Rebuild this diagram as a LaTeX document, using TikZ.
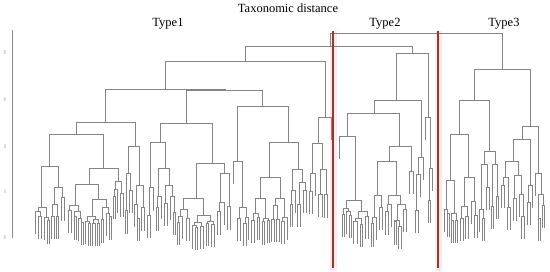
\documentclass[tikz,border=0pt]{standalone}
\usepackage{fontspec}
\setmainfont{Liberation Serif}
\definecolor{cutred}{RGB}{150,58,38}
\definecolor{cutglow}{RGB}{253,232,244}
\def\leafw{2.6}
\def\hang{23}
\def\hmax{228}
% one merge: left x, right x, merge height, left end, right end
\newcommand\mergeat[5]{\draw[dendro] (#1,#4) |- (#2,#3) -- (#2,#5);}
% lower part of a cluster: slot range a..b, drop x, height
\newcommand\subclade[4]{%
  \begingroup
  \pgfmathsetmacro\ca{#1}\pgfmathsetmacro\cb{#2}%
  \pgfmathsetmacro\cx{#3}\pgfmathsetmacro\ch{#4}%
  \pgfmathsetmacro\ck{2*\cx-(\ca+\cb)/2+(rnd-0.5)*0.3*(\cb-\ca)}%
  \pgfmathsetmacro\ck{max(\ca+\leafw,min(\cb-\leafw,\ck))}%
  \pgfmathsetmacro\cxl{(\ca+\ck)/2}\pgfmathsetmacro\cxr{(\ck+\cb)/2}%
  \pgfmathsetmacro\chl{(\ck-\ca)<1.5*\leafw ? \ch+\hang : \ch+(\hmax-\ch)*(0.15+0.55*rnd)}%
  \pgfmathsetmacro\chr{(\cb-\ck)<1.5*\leafw ? \ch+\hang : \ch+(\hmax-\ch)*(0.15+0.55*rnd)}%
  \draw[dendro] (\cxl,\chl) -- (\cxl,\ch) -- (\cxr,\ch) -- (\cxr,\chr);
  \draw[dendro] (\cx,\ch) -- ({(\cxl+\cxr)/2},\ch);
  \pgfmathparse{(\ck-\ca)>=1.5*\leafw}%
  \ifdim\pgfmathresult pt>0.5pt \subclade{\ca}{\ck}{\cxl}{\chl}\fi
  \pgfmathparse{(\cb-\ck)>=1.5*\leafw}%
  \ifdim\pgfmathresult pt>0.5pt \subclade{\ck}{\cb}{\cxr}{\chr}\fi
  \endgroup}

\begin{document}
\begin{tikzpicture}[x=1pt,y=-1pt,
  dendro/.style={draw=black!48,line width=0.35pt},
  heading/.style={font=\fontsize{12.5}{14}\selectfont,inner sep=0pt},
  scalelabel/.style={rotate=90,font=\fontsize{3}{3}\selectfont,text=black!60,inner sep=0pt}]
\useasboundingbox (0,0) rectangle (550,271);
\pgfmathsetseed{11}
% glow round the cut lines
\fill[cutglow] (330,31) rectangle (336.5,271);
\fill[cutglow] (435,31) rectangle (441.5,271);
% titles
\node[heading] (title) at (288,8) {Taxonomic distance};
\node[heading] (type-1) at (168,24) {Type1};
\node[heading] (type-2) at (385,24) {Type2};
\node[heading] (type-3) at (504,24) {Type3};
% height scale
\draw[black!45,line width=0.6pt] (12,30) -- (12,238);
\node[scalelabel] (scale-8) at (5,53) {0.8};
\node[scalelabel] (scale-6) at (5,100) {0.6};
\node[scalelabel] (scale-4) at (5,147) {0.4};
\node[scalelabel] (scale-2) at (5,192) {0.2};
\node[scalelabel] (scale-0) at (5,238) {0.0};
% upper merges
\mergeat{330}{502}{33}{46}{69}
\mergeat{245}{412}{46}{61}{53}
\mergeat{165}{325}{61}{89}{117}
\mergeat{105}{225}{89}{122}{90}
\mergeat{76}{135}{122}{134}{146}
\mergeat{49}{103}{134}{166}{168}
\mergeat{186}{262}{90}{123}{106}
\mergeat{160}{212}{123}{142}{163}
\mergeat{237}{288}{106}{161}{142}
\mergeat{318}{331}{117}{143}{140}
\mergeat{396}{428}{53}{100}{117}
\mergeat{374}{421}{100}{113}{157}
\mergeat{347}{399}{113}{136}{146}
\mergeat{474}{530}{69}{100}{126}
\mergeat{459}{489}{100}{134}{151}
\mergeat{522}{538}{126}{139}{173}
\mergeat{513}{530}{139}{161}{185}
% Type1 clusters
\subclade{33}{66}{49}{166}
\subclade{66}{124}{103}{168}
\subclade{124}{146}{135}{146}
\subclade{146}{176}{160}{142}
\subclade{176}{232}{212}{163}
\subclade{232}{250}{237}{161}
\subclade{250}{308}{288}{142}
\subclade{308}{328}{318}{143}
% Type2 clusters
\subclade{338}{370}{347}{136}
\subclade{370}{414}{399}{146}
\subclade{414}{424}{421}{157}
\subclade{424}{434}{428}{117}
% Type3 clusters
\subclade{442}{478}{459}{134}
\subclade{478}{500}{489}{151}
\subclade{500}{526}{513}{161}
\subclade{526}{534}{530}{185}
\subclade{534}{545}{538}{173}
% cut lines
\draw[cutred,line width=1.8pt] (333,31) -- (333,268);
\draw[cutred,line width=1.8pt] (438,31) -- (438,268);
\end{tikzpicture}
\end{document}
